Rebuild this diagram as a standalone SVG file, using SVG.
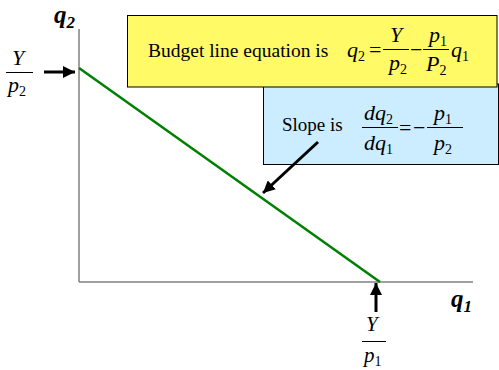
<svg xmlns="http://www.w3.org/2000/svg" width="499" height="370" viewBox="0 0 499 370">
<style>
text{font-family:"Liberation Serif","Times New Roman",serif;fill:#000}
.it{font-style:italic}
.ax{font-style:italic;font-weight:bold;font-size:25px}
.axs{font-style:italic;font-weight:bold;font-size:17px}
.m{font-style:italic;font-size:22px}
.s{font-size:14px;font-style:normal}
.op{font-size:22px}
.bar{stroke:#000;stroke-width:1}
.arr{stroke:#000;stroke-width:3;fill:none}
</style>
<defs>
<marker id="ah" markerUnits="userSpaceOnUse" markerWidth="14" markerHeight="12" refX="12" refY="6" orient="auto">
<path d="M0,0 L12,6 L0,12 Z" fill="#000"/>
</marker>
</defs>
<rect width="499" height="370" fill="#fff"/>
<g id="axes">
<line x1="79" y1="29" x2="79" y2="282" stroke="#808080" stroke-width="1.5"/>
<line x1="79" y1="282" x2="473" y2="282" stroke="#808080" stroke-width="1.5"/>
<text x="54" y="23" class="ax">q<tspan class="axs" dy="5">2</tspan></text>
<text x="451" y="307" class="ax">q<tspan class="axs" dy="5">1</tspan></text>
</g>
<g id="budget-line">
<line x1="79" y1="68" x2="380" y2="282" stroke="#008000" stroke-width="2.5"/>
</g>
<g id="slope-box">
<rect x="263.5" y="84" width="235" height="80.5" fill="#CCECFF" stroke="#000" stroke-width="1"/>
<text x="282" y="131" font-size="19">Slope is</text>
<text x="364" y="120" class="m">dq<tspan class="s" dy="4">2</tspan></text>
<line x1="362" y1="127.5" x2="398" y2="127.5" class="bar"/>
<text x="364" y="150" class="m">dq<tspan class="s" dy="4">1</tspan></text>
<text x="399" y="135" class="op">=</text>
<text x="413" y="135" class="op">−</text>
<line x1="427" y1="127.5" x2="463" y2="127.5" class="bar"/>
<text x="434" y="120" class="m">p<tspan class="s" dy="4">1</tspan></text>
<text x="434" y="150" class="m">p<tspan class="s" dy="4">2</tspan></text>
</g>
<g id="equation-box">
<rect x="127.5" y="15.5" width="369.5" height="71.5" fill="#FFFA66" stroke="#000" stroke-width="1"/>
<text x="148" y="57" font-size="19.5">Budget line equation is</text>
<text x="347" y="57" class="m">q<tspan class="s" dy="4">2</tspan></text>
<text x="369" y="57" class="op">=</text>
<line x1="383" y1="49.5" x2="409" y2="49.5" class="bar"/>
<text x="390" y="42" class="m">Y</text>
<text x="389" y="70" class="m">p<tspan class="s" dy="4">2</tspan></text>
<text x="410" y="57" class="op">−</text>
<line x1="423" y1="49.5" x2="449" y2="49.5" class="bar"/>
<text x="429" y="42" class="m">p<tspan class="s" dy="4">1</tspan></text>
<text x="426" y="71" class="m">P<tspan class="s" dy="4">2</tspan></text>
<text x="451" y="57" class="m">q<tspan class="s" dy="4">1</tspan></text>
</g>
<g id="label-y-intercept">
<text x="12" y="65" class="it" font-size="22">Y</text>
<line x1="6" y1="72.5" x2="33" y2="72.5" class="bar"/>
<text x="8" y="92" class="it" font-size="22">p<tspan class="s" dy="4">2</tspan></text>
</g>
<g id="label-x-intercept">
<text x="366" y="331" class="it" font-size="21">Y</text>
<line x1="362" y1="341.5" x2="386" y2="341.5" class="bar"/>
<text x="364" y="362" class="it" font-size="21">p<tspan class="s" dy="4">1</tspan></text>
</g>
<g id="connectors">
<line x1="44" y1="72" x2="75" y2="72" class="arr" marker-end="url(#ah)"/>
<line x1="376" y1="312" x2="376" y2="283" class="arr" marker-end="url(#ah)"/>
<line x1="318" y1="142" x2="263" y2="193" class="arr" marker-end="url(#ah)"/>
</g>
</svg>
